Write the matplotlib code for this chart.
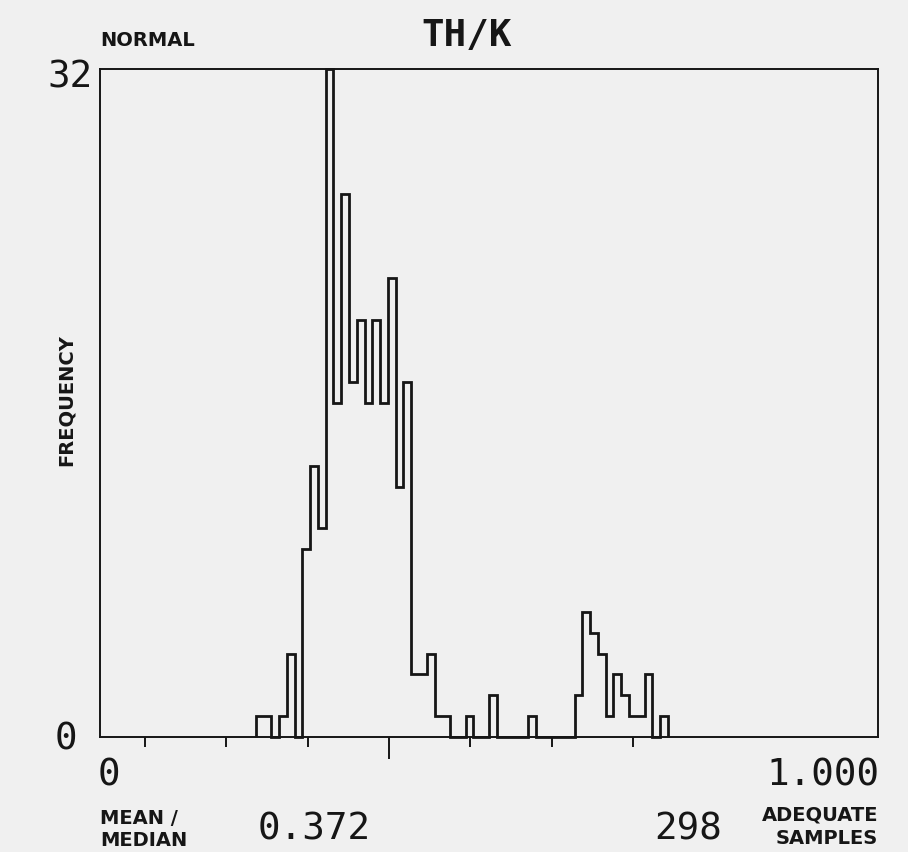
import numpy as np
import matplotlib
matplotlib.use("Agg")
import matplotlib.pyplot as plt

# histogram of TH/K, bins of 0.01 starting at 0.20
first_bin = 0.20
bin_width = 0.01
counts = [1, 1, 0, 1, 4, 0, 9, 13, 10, 32,
          16, 26, 17, 20, 16, 20, 16, 22, 12, 17,
          3, 3, 4, 1, 1, 0, 0, 1, 0, 0,
          2, 0, 0, 0, 0, 1, 0, 0, 0, 0,
          0, 2, 6, 5, 4, 1, 3, 2, 1, 1,
          3, 0, 1]

mean_median = 0.372
sd_ticks = [0.058, 0.162, 0.267, 0.476, 0.581, 0.685]
n_samples = 298
y_max = 32

ink = "#161616"
paper = "#f0f0f0"
W, H = 908, 852

edges = first_bin + bin_width * np.arange(len(counts) + 1)

fig = plt.figure(figsize=(W / 100, H / 100), dpi=100, facecolor=paper)
ax = fig.add_axes([100 / W, 1 - 737 / H, 778 / W, 668 / H], facecolor=paper)

ax.stairs(counts, edges, baseline=0, color=ink, lw=2.0, clip_on=False)

ax.set_xlim(0, 1)
ax.set_ylim(0, y_max)
for s in ax.spines.values():
    s.set_linewidth(1.4)
    s.set_color(ink)

ax.set_xticks([mean_median])
ax.set_xticks(sd_ticks, minor=True)
ax.tick_params(axis="x", which="major", direction="out", length=16, width=1.4,
               color=ink, labelbottom=False)
ax.tick_params(axis="x", which="minor", direction="out", length=7, width=1.4,
               color=ink, labelbottom=False)
ax.set_yticks([])

big = dict(family="DejaVu Sans Mono", fontsize=27, color=ink)
small = dict(family="DejaVu Sans", fontsize=14, fontweight="bold", color=ink)


def put(x, y, s, ha="left", va="center", **kw):
    fig.text(x / W, 1 - y / H, s, ha=ha, va=va, **kw)


put(467, 36, "TH/K", ha="center", fontweight="bold", **big)
put(100, 40, "NORMAL", **small)
put(93, 77, str(y_max), ha="right", **big)
put(77, 740, "0", ha="right", **big)
put(66, 400, "FREQUENCY", ha="center", rotation=90, **small)

put(98, 776, "0", **big)
put(880, 776, "1.000", ha="right", **big)

put(100, 818, "MEAN /", **small)
put(100, 841, "MEDIAN", **small)
put(258, 830, f"{mean_median:.3f}", **big)
put(722, 830, str(n_samples), ha="right", **big)
put(878, 815, "ADEQUATE", ha="right", **small)
put(878, 838, "SAMPLES", ha="right", **small)

fig.savefig("out.png", dpi=100, facecolor=paper)
